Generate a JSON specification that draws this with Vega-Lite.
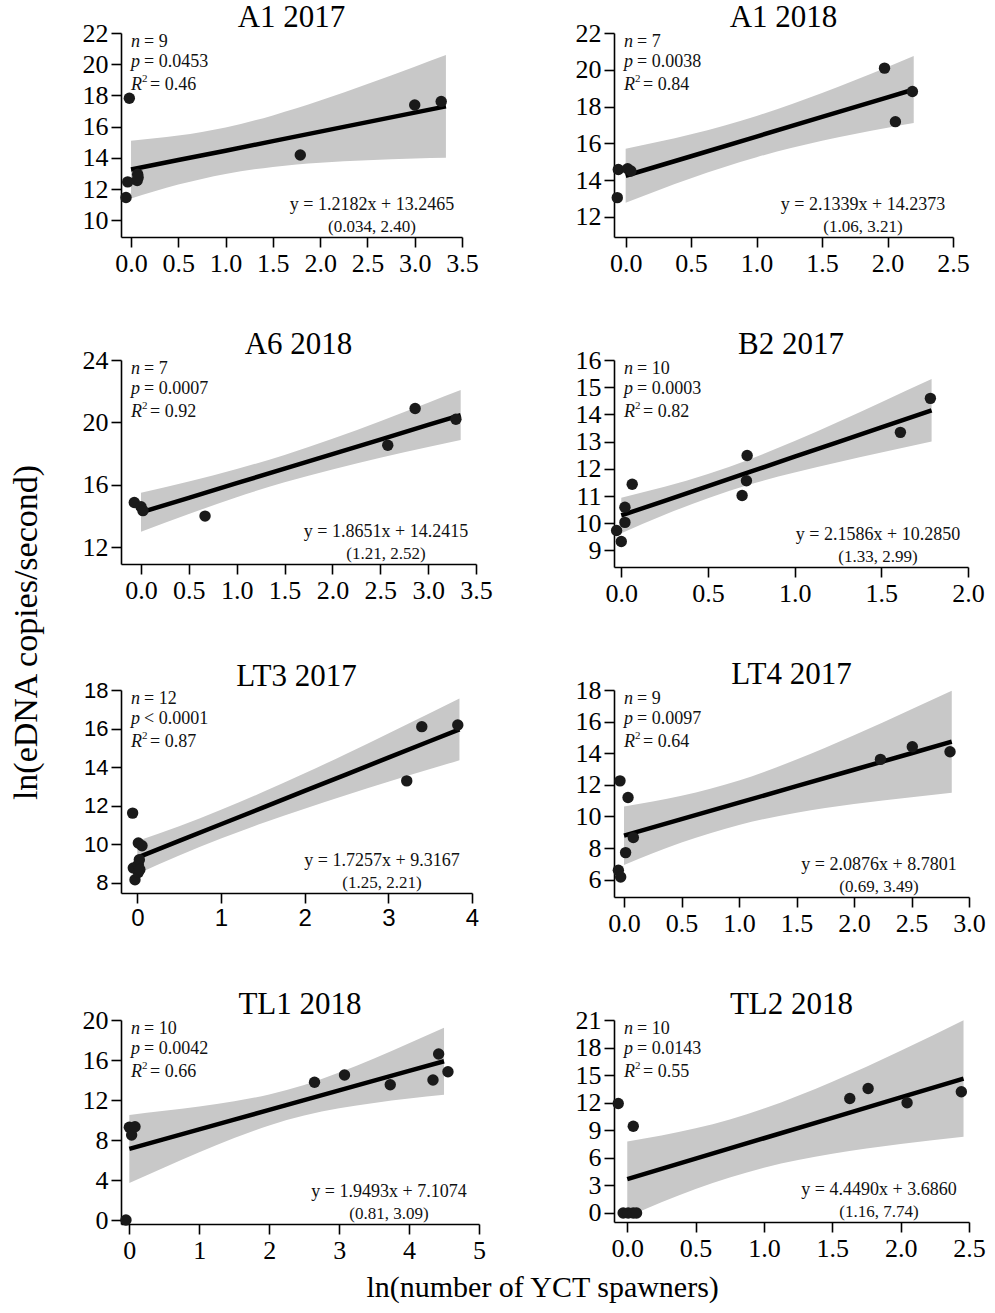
{
"$schema": "https://vega.github.io/schema/vega-lite/v6.json",
"background": "white",
"padding": {"left": 9, "top": 2, "right": 5, "bottom": 5},
"title": {"text": "ln(eDNA copies/second)", "orient": "left", "fontSize": 34, "anchor": "middle", "offset": 38, "frame": "bounds", "dy": 0, "dx": 20},
"datasets": {
"pts": [
{"panel":"A1 2017","x":-0.018,"y":17.82},{"panel":"A1 2017","x":-0.035,"y":12.46},{"panel":"A1 2017","x":-0.053,"y":11.46},{"panel":"A1 2017","x":0.07,"y":12.95},{"panel":"A1 2017","x":0.065,"y":12.55},{"panel":"A1 2017","x":0.075,"y":12.75},{"panel":"A1 2017","x":1.79,"y":14.18},{"panel":"A1 2017","x":3.0,"y":17.39},{"panel":"A1 2017","x":3.28,"y":17.61},
{"panel":"A1 2018","x":-0.056,"y":14.58},{"panel":"A1 2018","x":-0.064,"y":13.05},{"panel":"A1 2018","x":0.015,"y":14.62},{"panel":"A1 2018","x":0.04,"y":14.5},{"panel":"A1 2018","x":1.977,"y":20.09},{"panel":"A1 2018","x":2.06,"y":17.18},{"panel":"A1 2018","x":2.19,"y":18.82},
{"panel":"A6 2018","x":-0.07,"y":14.87},{"panel":"A6 2018","x":0.0,"y":14.6},{"panel":"A6 2018","x":0.02,"y":14.35},{"panel":"A6 2018","x":0.669,"y":14.0},{"panel":"A6 2018","x":2.578,"y":18.54},{"panel":"A6 2018","x":2.864,"y":20.89},{"panel":"A6 2018","x":3.29,"y":20.2},
{"panel":"B2 2017","x":-0.027,"y":9.73},{"panel":"B2 2017","x":0.0,"y":9.33},{"panel":"B2 2017","x":0.021,"y":10.03},{"panel":"B2 2017","x":0.021,"y":10.59},{"panel":"B2 2017","x":0.063,"y":11.43},{"panel":"B2 2017","x":0.697,"y":11.02},{"panel":"B2 2017","x":0.722,"y":11.56},{"panel":"B2 2017","x":0.726,"y":12.49},{"panel":"B2 2017","x":1.61,"y":13.34},{"panel":"B2 2017","x":1.783,"y":14.59},
{"panel":"LT3 2017","x":-0.056,"y":11.62},{"panel":"LT3 2017","x":0.012,"y":10.07},{"panel":"LT3 2017","x":0.056,"y":9.93},{"panel":"LT3 2017","x":-0.048,"y":8.78},{"panel":"LT3 2017","x":-0.028,"y":8.17},{"panel":"LT3 2017","x":0.012,"y":8.55},{"panel":"LT3 2017","x":0.012,"y":8.95},{"panel":"LT3 2017","x":0.024,"y":9.2},{"panel":"LT3 2017","x":0.03,"y":8.7},{"panel":"LT3 2017","x":3.22,"y":13.29},{"panel":"LT3 2017","x":3.4,"y":16.1},{"panel":"LT3 2017","x":3.83,"y":16.19},
{"panel":"LT4 2017","x":-0.035,"y":12.25},{"panel":"LT4 2017","x":0.035,"y":11.2},{"panel":"LT4 2017","x":0.014,"y":7.71},{"panel":"LT4 2017","x":0.081,"y":8.66},{"panel":"LT4 2017","x":-0.049,"y":6.59},{"panel":"LT4 2017","x":-0.029,"y":6.17},{"panel":"LT4 2017","x":2.23,"y":13.61},{"panel":"LT4 2017","x":2.507,"y":14.41},{"panel":"LT4 2017","x":2.835,"y":14.09},
{"panel":"TL1 2018","x":-0.048,"y":0.0},{"panel":"TL1 2018","x":0.0,"y":9.27},{"panel":"TL1 2018","x":0.033,"y":8.5},{"panel":"TL1 2018","x":0.081,"y":9.33},{"panel":"TL1 2018","x":2.648,"y":13.77},{"panel":"TL1 2018","x":3.077,"y":14.5},{"panel":"TL1 2018","x":3.731,"y":13.53},{"panel":"TL1 2018","x":4.342,"y":14.0},{"panel":"TL1 2018","x":4.423,"y":16.6},{"panel":"TL1 2018","x":4.556,"y":14.83},
{"panel":"TL2 2018","x":-0.066,"y":11.92},{"panel":"TL2 2018","x":0.044,"y":9.44},{"panel":"TL2 2018","x":-0.03,"y":0.0},{"panel":"TL2 2018","x":0.007,"y":0.0},{"panel":"TL2 2018","x":0.044,"y":0.0},{"panel":"TL2 2018","x":0.068,"y":0.0},{"panel":"TL2 2018","x":1.628,"y":12.46},{"panel":"TL2 2018","x":1.762,"y":13.55},{"panel":"TL2 2018","x":2.047,"y":11.99},{"panel":"TL2 2018","x":2.444,"y":13.19}
],
"fit": [
{"panel":"A1 2017","x":0,"fit":13.25,"lo":11.40,"hi":15.10},{"panel":"A1 2017","x":0.5,"fit":13.86,"lo":12.29,"hi":15.43},{"panel":"A1 2017","x":1.0,"fit":14.46,"lo":12.97,"hi":15.95},{"panel":"A1 2017","x":1.5,"fit":15.07,"lo":13.42,"hi":16.72},{"panel":"A1 2017","x":2.0,"fit":15.68,"lo":13.69,"hi":17.67},{"panel":"A1 2017","x":2.5,"fit":16.29,"lo":13.85,"hi":18.73},{"panel":"A1 2017","x":3.0,"fit":16.90,"lo":13.96,"hi":19.84},{"panel":"A1 2017","x":3.33,"fit":17.30,"lo":14.01,"hi":20.59},
{"panel":"A1 2018","x":0,"fit":14.24,"lo":12.77,"hi":15.71},{"panel":"A1 2018","x":0.5,"fit":15.30,"lo":14.11,"hi":16.49},{"panel":"A1 2018","x":1.0,"fit":16.37,"lo":15.25,"hi":17.49},{"panel":"A1 2018","x":1.5,"fit":17.44,"lo":16.14,"hi":18.74},{"panel":"A1 2018","x":2.0,"fit":18.50,"lo":16.85,"hi":20.15},{"panel":"A1 2018","x":2.2,"fit":18.93,"lo":17.11,"hi":20.75},
{"panel":"A6 2018","x":0,"fit":14.24,"lo":12.99,"hi":15.49},{"panel":"A6 2018","x":0.5,"fit":15.17,"lo":14.13,"hi":16.21},{"panel":"A6 2018","x":1.0,"fit":16.11,"lo":15.21,"hi":17.01},{"panel":"A6 2018","x":1.5,"fit":17.04,"lo":16.16,"hi":17.92},{"panel":"A6 2018","x":2.0,"fit":17.97,"lo":16.99,"hi":18.95},{"panel":"A6 2018","x":2.5,"fit":18.90,"lo":17.73,"hi":20.07},{"panel":"A6 2018","x":3.0,"fit":19.84,"lo":18.43,"hi":21.26},{"panel":"A6 2018","x":3.34,"fit":20.47,"lo":18.87,"hi":22.07},
{"panel":"B2 2017","x":0,"fit":10.285,"lo":9.63,"hi":10.94},{"panel":"B2 2017","x":0.25,"fit":10.825,"lo":10.31,"hi":11.34},{"panel":"B2 2017","x":0.5,"fit":11.364,"lo":10.92,"hi":11.81},{"panel":"B2 2017","x":0.75,"fit":11.904,"lo":11.44,"hi":12.37},{"panel":"B2 2017","x":1.0,"fit":12.444,"lo":11.86,"hi":13.02},{"panel":"B2 2017","x":1.25,"fit":12.983,"lo":12.24,"hi":13.72},{"panel":"B2 2017","x":1.5,"fit":13.523,"lo":12.60,"hi":14.45},{"panel":"B2 2017","x":1.79,"fit":14.149,"lo":13.00,"hi":15.30},
{"panel":"LT3 2017","x":0,"fit":9.317,"lo":8.47,"hi":10.17},{"panel":"LT3 2017","x":0.5,"fit":10.18,"lo":9.42,"hi":10.94},{"panel":"LT3 2017","x":1.0,"fit":11.042,"lo":10.30,"hi":11.79},{"panel":"LT3 2017","x":1.5,"fit":11.905,"lo":11.11,"hi":12.71},{"panel":"LT3 2017","x":2.0,"fit":12.768,"lo":11.85,"hi":13.68},{"panel":"LT3 2017","x":2.5,"fit":13.631,"lo":12.56,"hi":14.70},{"panel":"LT3 2017","x":3.0,"fit":14.494,"lo":13.24,"hi":15.75},{"panel":"LT3 2017","x":3.5,"fit":15.357,"lo":13.90,"hi":16.81},{"panel":"LT3 2017","x":3.85,"fit":15.961,"lo":14.36,"hi":17.56},
{"panel":"LT4 2017","x":0,"fit":8.78,"lo":6.93,"hi":10.63},{"panel":"LT4 2017","x":0.5,"fit":9.824,"lo":8.35,"hi":11.30},{"panel":"LT4 2017","x":1.0,"fit":10.868,"lo":9.46,"hi":12.27},{"panel":"LT4 2017","x":1.5,"fit":11.912,"lo":10.23,"hi":13.60},{"panel":"LT4 2017","x":2.0,"fit":12.955,"lo":10.78,"hi":15.13},{"panel":"LT4 2017","x":2.5,"fit":13.999,"lo":11.22,"hi":16.78},{"panel":"LT4 2017","x":2.85,"fit":14.73,"lo":11.50,"hi":17.96},
{"panel":"TL1 2018","x":0,"fit":7.107,"lo":3.71,"hi":10.51},{"panel":"TL1 2018","x":0.5,"fit":8.082,"lo":5.24,"hi":10.92},{"panel":"TL1 2018","x":1.0,"fit":9.057,"lo":6.77,"hi":11.35},{"panel":"TL1 2018","x":1.5,"fit":10.031,"lo":8.19,"hi":11.87},{"panel":"TL1 2018","x":2.0,"fit":11.006,"lo":9.46,"hi":12.56},{"panel":"TL1 2018","x":2.5,"fit":11.981,"lo":10.45,"hi":13.51},{"panel":"TL1 2018","x":3.0,"fit":12.955,"lo":11.18,"hi":14.74},{"panel":"TL1 2018","x":3.5,"fit":13.93,"lo":11.71,"hi":16.15},{"panel":"TL1 2018","x":4.0,"fit":14.905,"lo":12.15,"hi":17.67},{"panel":"TL1 2018","x":4.5,"fit":15.879,"lo":12.53,"hi":19.23},
{"panel":"TL2 2018","x":0,"fit":3.686,"lo":-0.41,"hi":7.79},{"panel":"TL2 2018","x":0.25,"fit":4.798,"lo":1.17,"hi":8.43},{"panel":"TL2 2018","x":0.5,"fit":5.911,"lo":2.61,"hi":9.21},{"panel":"TL2 2018","x":0.75,"fit":7.023,"lo":3.86,"hi":10.18},{"panel":"TL2 2018","x":1.0,"fit":8.135,"lo":4.92,"hi":11.36},{"panel":"TL2 2018","x":1.5,"fit":10.36,"lo":6.44,"hi":14.28},{"panel":"TL2 2018","x":2.0,"fit":12.584,"lo":7.51,"hi":17.65},{"panel":"TL2 2018","x":2.46,"fit":14.631,"lo":8.30,"hi":20.96}
],
"stats": [
{"panel":"A1 2017","n":"= 9","p":"= 0.0453","r":"= 0.46","eq":"y = 1.2182x + 13.2465","ci":"(0.034, 2.40)"},
{"panel":"A1 2018","n":"= 7","p":"= 0.0038","r":"= 0.84","eq":"y = 2.1339x + 14.2373","ci":"(1.06, 3.21)"},
{"panel":"A6 2018","n":"= 7","p":"= 0.0007","r":"= 0.92","eq":"y = 1.8651x + 14.2415","ci":"(1.21, 2.52)"},
{"panel":"B2 2017","n":"= 10","p":"= 0.0003","r":"= 0.82","eq":"y = 2.1586x + 10.2850","ci":"(1.33, 2.99)"},
{"panel":"LT3 2017","n":"= 12","p":"< 0.0001","r":"= 0.87","eq":"y = 1.7257x + 9.3167","ci":"(1.25, 2.21)"},
{"panel":"LT4 2017","n":"= 9","p":"= 0.0097","r":"= 0.64","eq":"y = 2.0876x + 8.7801","ci":"(0.69, 3.49)"},
{"panel":"TL1 2018","n":"= 10","p":"= 0.0042","r":"= 0.66","eq":"y = 1.9493x + 7.1074","ci":"(0.81, 3.09)"},
{"panel":"TL2 2018","n":"= 10","p":"= 0.0143","r":"= 0.55","eq":"y = 4.4490x + 3.6860","ci":"(1.16, 7.74)"}
]
},
"vconcat": [{
"title": {"text": "ln(number of YCT spawners)", "orient": "bottom", "fontSize": 30, "anchor": "middle", "offset": 10, "frame": "bounds", "dy": 0, "dx": 9},
"columns": 2,
"spacing": {"row": 53, "column": 82},
"concat": [
{"title": "A1 2017", "width": 341, "height": 204, "layer": [
{"data": {"name": "fit"}, "transform": [{"filter": "datum.panel == 'A1 2017'"}], "mark": {"type": "area", "color": "#c8c8c8", "interpolate": "monotone"},
 "encoding": {"x": {"field": "x", "type": "quantitative", "title": null, "scale": {"domain": [-0.106, 3.5], "nice": false, "zero": false}, "axis": {"values": [0,0.5,1,1.5,2,2.5,3,3.5], "format": ".1f", "labelOverlap": false}},
  "y": {"field": "lo", "type": "quantitative", "title": null, "scale": {"domain": [8.93, 22], "nice": false, "zero": false}, "axis": {"values": [10,12,14,16,18,20,22], "labelOverlap": false}}, "y2": {"field": "hi"}}},
{"data": {"name": "fit"}, "transform": [{"filter": "datum.panel == 'A1 2017'"}], "mark": {"type": "line", "color": "black", "strokeWidth": 4.5}, "encoding": {"x": {"field": "x", "type": "quantitative", "title": null, "axis": {"values": [0,0.5,1,1.5,2,2.5,3,3.5], "format": ".1f", "labelOverlap": false}}, "y": {"field": "fit", "type": "quantitative", "title": null, "axis": {"values": [10,12,14,16,18,20,22], "labelOverlap": false}}}},
{"data": {"name": "pts"}, "transform": [{"filter": "datum.panel == 'A1 2017'"}], "mark": {"type": "circle", "size": 130, "color": "#1a1a1a", "opacity": 1}, "encoding": {"x": {"field": "x", "type": "quantitative", "title": null, "axis": {"values": [0,0.5,1,1.5,2,2.5,3,3.5], "format": ".1f", "labelOverlap": false}}, "y": {"field": "y", "type": "quantitative", "title": null, "axis": {"values": [10,12,14,16,18,20,22], "labelOverlap": false}}}},
{"data": {"name": "stats"}, "transform": [{"filter": "datum.panel == 'A1 2017'"}], "layer": [
 {"mark": {"type": "text", "style": "it", "x": 10, "y": 14}, "encoding": {"text": {"value": "n"}}},
 {"mark": {"type": "text", "style": "it", "x": 10, "y": 34}, "encoding": {"text": {"value": "p"}}},
 {"mark": {"type": "text", "style": "it", "x": 10, "y": 57}, "encoding": {"text": {"value": "R"}}},
 {"mark": {"type": "text", "style": "sup", "x": 21, "y": 49}, "encoding": {"text": {"value": "2"}}},
 {"mark": {"type": "text", "style": "val", "x": 23, "y": 14}, "encoding": {"text": {"field": "n"}}},
 {"mark": {"type": "text", "style": "val", "x": 23, "y": 34}, "encoding": {"text": {"field": "p"}}},
 {"mark": {"type": "text", "style": "val", "x": 29, "y": 57}, "encoding": {"text": {"field": "r"}}},
 {"mark": {"type": "text", "style": "eq", "dx": -90, "dy": -27}, "encoding": {"x": {"value": "width"}, "y": {"value": "height"}, "text": {"field": "eq"}}},
 {"mark": {"type": "text", "style": "ci", "dx": -90, "dy": -5}, "encoding": {"x": {"value": "width"}, "y": {"value": "height"}, "text": {"field": "ci"}}}
]}
]},
{"title": "A1 2018", "width": 339, "height": 204, "layer": [
{"data": {"name": "fit"}, "transform": [{"filter": "datum.panel == 'A1 2018'"}], "mark": {"type": "area", "color": "#c8c8c8", "interpolate": "monotone"},
 "encoding": {"x": {"field": "x", "type": "quantitative", "title": null, "scale": {"domain": [-0.089, 2.5], "nice": false, "zero": false}, "axis": {"values": [0,0.5,1,1.5,2,2.5], "format": ".1f", "labelOverlap": false}},
  "y": {"field": "lo", "type": "quantitative", "title": null, "scale": {"domain": [10.91, 22], "nice": false, "zero": false}, "axis": {"values": [12,14,16,18,20,22], "labelOverlap": false}}, "y2": {"field": "hi"}}},
{"data": {"name": "fit"}, "transform": [{"filter": "datum.panel == 'A1 2018'"}], "mark": {"type": "line", "color": "black", "strokeWidth": 4.5}, "encoding": {"x": {"field": "x", "type": "quantitative", "title": null, "axis": {"values": [0,0.5,1,1.5,2,2.5], "format": ".1f", "labelOverlap": false}}, "y": {"field": "fit", "type": "quantitative", "title": null, "axis": {"values": [12,14,16,18,20,22], "labelOverlap": false}}}},
{"data": {"name": "pts"}, "transform": [{"filter": "datum.panel == 'A1 2018'"}], "mark": {"type": "circle", "size": 130, "color": "#1a1a1a", "opacity": 1}, "encoding": {"x": {"field": "x", "type": "quantitative", "title": null, "axis": {"values": [0,0.5,1,1.5,2,2.5], "format": ".1f", "labelOverlap": false}}, "y": {"field": "y", "type": "quantitative", "title": null, "axis": {"values": [12,14,16,18,20,22], "labelOverlap": false}}}},
{"data": {"name": "stats"}, "transform": [{"filter": "datum.panel == 'A1 2018'"}], "layer": [
 {"mark": {"type": "text", "style": "it", "x": 10, "y": 14}, "encoding": {"text": {"value": "n"}}},
 {"mark": {"type": "text", "style": "it", "x": 10, "y": 34}, "encoding": {"text": {"value": "p"}}},
 {"mark": {"type": "text", "style": "it", "x": 10, "y": 57}, "encoding": {"text": {"value": "R"}}},
 {"mark": {"type": "text", "style": "sup", "x": 21, "y": 49}, "encoding": {"text": {"value": "2"}}},
 {"mark": {"type": "text", "style": "val", "x": 23, "y": 14}, "encoding": {"text": {"field": "n"}}},
 {"mark": {"type": "text", "style": "val", "x": 23, "y": 34}, "encoding": {"text": {"field": "p"}}},
 {"mark": {"type": "text", "style": "val", "x": 29, "y": 57}, "encoding": {"text": {"field": "r"}}},
 {"mark": {"type": "text", "style": "eq", "dx": -90, "dy": -27}, "encoding": {"x": {"value": "width"}, "y": {"value": "height"}, "text": {"field": "eq"}}},
 {"mark": {"type": "text", "style": "ci", "dx": -90, "dy": -5}, "encoding": {"x": {"value": "width"}, "y": {"value": "height"}, "text": {"field": "ci"}}}
]}
]},
{"title": "A6 2018", "width": 355, "height": 204, "layer": [
{"data": {"name": "fit"}, "transform": [{"filter": "datum.panel == 'A6 2018'"}], "mark": {"type": "area", "color": "#c8c8c8", "interpolate": "monotone"},
 "encoding": {"x": {"field": "x", "type": "quantitative", "title": null, "scale": {"domain": [-0.209, 3.5], "nice": false, "zero": false}, "axis": {"values": [0,0.5,1,1.5,2,2.5,3,3.5], "format": ".1f", "labelOverlap": false}},
  "y": {"field": "lo", "type": "quantitative", "title": null, "scale": {"domain": [10.93, 24], "nice": false, "zero": false}, "axis": {"values": [12,16,20,24], "labelOverlap": false}}, "y2": {"field": "hi"}}},
{"data": {"name": "fit"}, "transform": [{"filter": "datum.panel == 'A6 2018'"}], "mark": {"type": "line", "color": "black", "strokeWidth": 4.5}, "encoding": {"x": {"field": "x", "type": "quantitative", "title": null, "axis": {"values": [0,0.5,1,1.5,2,2.5,3,3.5], "format": ".1f", "labelOverlap": false}}, "y": {"field": "fit", "type": "quantitative", "title": null, "axis": {"values": [12,16,20,24], "labelOverlap": false}}}},
{"data": {"name": "pts"}, "transform": [{"filter": "datum.panel == 'A6 2018'"}], "mark": {"type": "circle", "size": 130, "color": "#1a1a1a", "opacity": 1}, "encoding": {"x": {"field": "x", "type": "quantitative", "title": null, "axis": {"values": [0,0.5,1,1.5,2,2.5,3,3.5], "format": ".1f", "labelOverlap": false}}, "y": {"field": "y", "type": "quantitative", "title": null, "axis": {"values": [12,16,20,24], "labelOverlap": false}}}},
{"data": {"name": "stats"}, "transform": [{"filter": "datum.panel == 'A6 2018'"}], "layer": [
 {"mark": {"type": "text", "style": "it", "x": 10, "y": 14}, "encoding": {"text": {"value": "n"}}},
 {"mark": {"type": "text", "style": "it", "x": 10, "y": 34}, "encoding": {"text": {"value": "p"}}},
 {"mark": {"type": "text", "style": "it", "x": 10, "y": 57}, "encoding": {"text": {"value": "R"}}},
 {"mark": {"type": "text", "style": "sup", "x": 21, "y": 49}, "encoding": {"text": {"value": "2"}}},
 {"mark": {"type": "text", "style": "val", "x": 23, "y": 14}, "encoding": {"text": {"field": "n"}}},
 {"mark": {"type": "text", "style": "val", "x": 23, "y": 34}, "encoding": {"text": {"field": "p"}}},
 {"mark": {"type": "text", "style": "val", "x": 29, "y": 57}, "encoding": {"text": {"field": "r"}}},
 {"mark": {"type": "text", "style": "eq", "dx": -90, "dy": -27}, "encoding": {"x": {"value": "width"}, "y": {"value": "height"}, "text": {"field": "eq"}}},
 {"mark": {"type": "text", "style": "ci", "dx": -90, "dy": -5}, "encoding": {"x": {"value": "width"}, "y": {"value": "height"}, "text": {"field": "ci"}}}
]}
]},
{"title": "B2 2017", "width": 354, "height": 207, "layer": [
{"data": {"name": "fit"}, "transform": [{"filter": "datum.panel == 'B2 2017'"}], "mark": {"type": "area", "color": "#c8c8c8", "interpolate": "monotone"},
 "encoding": {"x": {"field": "x", "type": "quantitative", "title": null, "scale": {"domain": [-0.042, 2.0], "nice": false, "zero": false}, "axis": {"values": [0,0.5,1,1.5,2], "format": ".1f", "labelOverlap": false}},
  "y": {"field": "lo", "type": "quantitative", "title": null, "scale": {"domain": [8.39, 16], "nice": false, "zero": false}, "axis": {"values": [9,10,11,12,13,14,15,16], "labelOverlap": false}}, "y2": {"field": "hi"}}},
{"data": {"name": "fit"}, "transform": [{"filter": "datum.panel == 'B2 2017'"}], "mark": {"type": "line", "color": "black", "strokeWidth": 4.5}, "encoding": {"x": {"field": "x", "type": "quantitative", "title": null, "axis": {"values": [0,0.5,1,1.5,2], "format": ".1f", "labelOverlap": false}}, "y": {"field": "fit", "type": "quantitative", "title": null, "axis": {"values": [9,10,11,12,13,14,15,16], "labelOverlap": false}}}},
{"data": {"name": "pts"}, "transform": [{"filter": "datum.panel == 'B2 2017'"}], "mark": {"type": "circle", "size": 130, "color": "#1a1a1a", "opacity": 1}, "encoding": {"x": {"field": "x", "type": "quantitative", "title": null, "axis": {"values": [0,0.5,1,1.5,2], "format": ".1f", "labelOverlap": false}}, "y": {"field": "y", "type": "quantitative", "title": null, "axis": {"values": [9,10,11,12,13,14,15,16], "labelOverlap": false}}}},
{"data": {"name": "stats"}, "transform": [{"filter": "datum.panel == 'B2 2017'"}], "layer": [
 {"mark": {"type": "text", "style": "it", "x": 10, "y": 14}, "encoding": {"text": {"value": "n"}}},
 {"mark": {"type": "text", "style": "it", "x": 10, "y": 34}, "encoding": {"text": {"value": "p"}}},
 {"mark": {"type": "text", "style": "it", "x": 10, "y": 57}, "encoding": {"text": {"value": "R"}}},
 {"mark": {"type": "text", "style": "sup", "x": 21, "y": 49}, "encoding": {"text": {"value": "2"}}},
 {"mark": {"type": "text", "style": "val", "x": 23, "y": 14}, "encoding": {"text": {"field": "n"}}},
 {"mark": {"type": "text", "style": "val", "x": 23, "y": 34}, "encoding": {"text": {"field": "p"}}},
 {"mark": {"type": "text", "style": "val", "x": 29, "y": 57}, "encoding": {"text": {"field": "r"}}},
 {"mark": {"type": "text", "style": "eq", "dx": -90, "dy": -27}, "encoding": {"x": {"value": "width"}, "y": {"value": "height"}, "text": {"field": "eq"}}},
 {"mark": {"type": "text", "style": "ci", "dx": -90, "dy": -5}, "encoding": {"x": {"value": "width"}, "y": {"value": "height"}, "text": {"field": "ci"}}}
]}
]},
{"title": "LT3 2017", "width": 351, "height": 203, "layer": [
{"data": {"name": "fit"}, "transform": [{"filter": "datum.panel == 'LT3 2017'"}], "mark": {"type": "area", "color": "#c8c8c8", "interpolate": "monotone"},
 "encoding": {"x": {"field": "x", "type": "quantitative", "title": null, "scale": {"domain": [-0.195, 4], "nice": false, "zero": false}, "axis": {"values": [0,1,2,3,4], "format": "d", "labelFont": "Liberation Sans", "labelFontSize": 24, "labelOverlap": false}},
  "y": {"field": "lo", "type": "quantitative", "title": null, "scale": {"domain": [7.48, 18], "nice": false, "zero": false}, "axis": {"values": [8,10,12,14,16,18], "labelFont": "Liberation Sans", "labelFontSize": 22, "labelOverlap": false}}, "y2": {"field": "hi"}}},
{"data": {"name": "fit"}, "transform": [{"filter": "datum.panel == 'LT3 2017'"}], "mark": {"type": "line", "color": "black", "strokeWidth": 4.5}, "encoding": {"x": {"field": "x", "type": "quantitative", "title": null, "axis": {"values": [0,1,2,3,4], "format": "d", "labelFont": "Liberation Sans", "labelFontSize": 24, "labelOverlap": false}}, "y": {"field": "fit", "type": "quantitative", "title": null, "axis": {"values": [8,10,12,14,16,18], "labelFont": "Liberation Sans", "labelFontSize": 22, "labelOverlap": false}}}},
{"data": {"name": "pts"}, "transform": [{"filter": "datum.panel == 'LT3 2017'"}], "mark": {"type": "circle", "size": 130, "color": "#1a1a1a", "opacity": 1}, "encoding": {"x": {"field": "x", "type": "quantitative", "title": null, "axis": {"values": [0,1,2,3,4], "format": "d", "labelFont": "Liberation Sans", "labelFontSize": 24, "labelOverlap": false}}, "y": {"field": "y", "type": "quantitative", "title": null, "axis": {"values": [8,10,12,14,16,18], "labelFont": "Liberation Sans", "labelFontSize": 22, "labelOverlap": false}}}},
{"data": {"name": "stats"}, "transform": [{"filter": "datum.panel == 'LT3 2017'"}], "layer": [
 {"mark": {"type": "text", "style": "it", "x": 10, "y": 14}, "encoding": {"text": {"value": "n"}}},
 {"mark": {"type": "text", "style": "it", "x": 10, "y": 34}, "encoding": {"text": {"value": "p"}}},
 {"mark": {"type": "text", "style": "it", "x": 10, "y": 57}, "encoding": {"text": {"value": "R"}}},
 {"mark": {"type": "text", "style": "sup", "x": 21, "y": 49}, "encoding": {"text": {"value": "2"}}},
 {"mark": {"type": "text", "style": "val", "x": 23, "y": 14}, "encoding": {"text": {"field": "n"}}},
 {"mark": {"type": "text", "style": "val", "x": 23, "y": 34}, "encoding": {"text": {"field": "p"}}},
 {"mark": {"type": "text", "style": "val", "x": 29, "y": 57}, "encoding": {"text": {"field": "r"}}},
 {"mark": {"type": "text", "style": "eq", "dx": -90, "dy": -27}, "encoding": {"x": {"value": "width"}, "y": {"value": "height"}, "text": {"field": "eq"}}},
 {"mark": {"type": "text", "style": "ci", "dx": -90, "dy": -5}, "encoding": {"x": {"value": "width"}, "y": {"value": "height"}, "text": {"field": "ci"}}}
]}
]},
{"title": "LT4 2017", "width": 355, "height": 207, "layer": [
{"data": {"name": "fit"}, "transform": [{"filter": "datum.panel == 'LT4 2017'"}], "mark": {"type": "area", "color": "#c8c8c8", "interpolate": "monotone"},
 "encoding": {"x": {"field": "x", "type": "quantitative", "title": null, "scale": {"domain": [-0.087, 3.0], "nice": false, "zero": false}, "axis": {"values": [0,0.5,1,1.5,2,2.5,3], "format": ".1f", "labelOverlap": false}},
  "y": {"field": "lo", "type": "quantitative", "title": null, "scale": {"domain": [4.9, 18], "nice": false, "zero": false}, "axis": {"values": [6,8,10,12,14,16,18], "labelOverlap": false}}, "y2": {"field": "hi"}}},
{"data": {"name": "fit"}, "transform": [{"filter": "datum.panel == 'LT4 2017'"}], "mark": {"type": "line", "color": "black", "strokeWidth": 4.5}, "encoding": {"x": {"field": "x", "type": "quantitative", "title": null, "axis": {"values": [0,0.5,1,1.5,2,2.5,3], "format": ".1f", "labelOverlap": false}}, "y": {"field": "fit", "type": "quantitative", "title": null, "axis": {"values": [6,8,10,12,14,16,18], "labelOverlap": false}}}},
{"data": {"name": "pts"}, "transform": [{"filter": "datum.panel == 'LT4 2017'"}], "mark": {"type": "circle", "size": 130, "color": "#1a1a1a", "opacity": 1}, "encoding": {"x": {"field": "x", "type": "quantitative", "title": null, "axis": {"values": [0,0.5,1,1.5,2,2.5,3], "format": ".1f", "labelOverlap": false}}, "y": {"field": "y", "type": "quantitative", "title": null, "axis": {"values": [6,8,10,12,14,16,18], "labelOverlap": false}}}},
{"data": {"name": "stats"}, "transform": [{"filter": "datum.panel == 'LT4 2017'"}], "layer": [
 {"mark": {"type": "text", "style": "it", "x": 10, "y": 14}, "encoding": {"text": {"value": "n"}}},
 {"mark": {"type": "text", "style": "it", "x": 10, "y": 34}, "encoding": {"text": {"value": "p"}}},
 {"mark": {"type": "text", "style": "it", "x": 10, "y": 57}, "encoding": {"text": {"value": "R"}}},
 {"mark": {"type": "text", "style": "sup", "x": 21, "y": 49}, "encoding": {"text": {"value": "2"}}},
 {"mark": {"type": "text", "style": "val", "x": 23, "y": 14}, "encoding": {"text": {"field": "n"}}},
 {"mark": {"type": "text", "style": "val", "x": 23, "y": 34}, "encoding": {"text": {"field": "p"}}},
 {"mark": {"type": "text", "style": "val", "x": 29, "y": 57}, "encoding": {"text": {"field": "r"}}},
 {"mark": {"type": "text", "style": "eq", "dx": -90, "dy": -27}, "encoding": {"x": {"value": "width"}, "y": {"value": "height"}, "text": {"field": "eq"}}},
 {"mark": {"type": "text", "style": "ci", "dx": -90, "dy": -5}, "encoding": {"x": {"value": "width"}, "y": {"value": "height"}, "text": {"field": "ci"}}}
]}
]},
{"title": "TL1 2018", "width": 358, "height": 204, "layer": [
{"data": {"name": "fit"}, "transform": [{"filter": "datum.panel == 'TL1 2018'"}], "mark": {"type": "area", "color": "#c8c8c8", "interpolate": "monotone"},
 "encoding": {"x": {"field": "x", "type": "quantitative", "title": null, "scale": {"domain": [-0.119, 5], "nice": false, "zero": false}, "axis": {"values": [0,1,2,3,4,5], "format": "d", "labelOverlap": false}},
  "y": {"field": "lo", "type": "quantitative", "title": null, "scale": {"domain": [-0.4, 20], "nice": false, "zero": false}, "axis": {"values": [0,4,8,12,16,20], "labelOverlap": false}}, "y2": {"field": "hi"}}},
{"data": {"name": "fit"}, "transform": [{"filter": "datum.panel == 'TL1 2018'"}], "mark": {"type": "line", "color": "black", "strokeWidth": 4.5}, "encoding": {"x": {"field": "x", "type": "quantitative", "title": null, "axis": {"values": [0,1,2,3,4,5], "format": "d", "labelOverlap": false}}, "y": {"field": "fit", "type": "quantitative", "title": null, "axis": {"values": [0,4,8,12,16,20], "labelOverlap": false}}}},
{"data": {"name": "pts"}, "transform": [{"filter": "datum.panel == 'TL1 2018'"}], "mark": {"type": "circle", "size": 130, "color": "#1a1a1a", "opacity": 1}, "encoding": {"x": {"field": "x", "type": "quantitative", "title": null, "axis": {"values": [0,1,2,3,4,5], "format": "d", "labelOverlap": false}}, "y": {"field": "y", "type": "quantitative", "title": null, "axis": {"values": [0,4,8,12,16,20], "labelOverlap": false}}}},
{"data": {"name": "stats"}, "transform": [{"filter": "datum.panel == 'TL1 2018'"}], "layer": [
 {"mark": {"type": "text", "style": "it", "x": 10, "y": 14}, "encoding": {"text": {"value": "n"}}},
 {"mark": {"type": "text", "style": "it", "x": 10, "y": 34}, "encoding": {"text": {"value": "p"}}},
 {"mark": {"type": "text", "style": "it", "x": 10, "y": 57}, "encoding": {"text": {"value": "R"}}},
 {"mark": {"type": "text", "style": "sup", "x": 21, "y": 49}, "encoding": {"text": {"value": "2"}}},
 {"mark": {"type": "text", "style": "val", "x": 23, "y": 14}, "encoding": {"text": {"field": "n"}}},
 {"mark": {"type": "text", "style": "val", "x": 23, "y": 34}, "encoding": {"text": {"field": "p"}}},
 {"mark": {"type": "text", "style": "val", "x": 29, "y": 57}, "encoding": {"text": {"field": "r"}}},
 {"mark": {"type": "text", "style": "eq", "dx": -90, "dy": -27}, "encoding": {"x": {"value": "width"}, "y": {"value": "height"}, "text": {"field": "eq"}}},
 {"mark": {"type": "text", "style": "ci", "dx": -90, "dy": -5}, "encoding": {"x": {"value": "width"}, "y": {"value": "height"}, "text": {"field": "ci"}}}
]}
]},
{"title": "TL2 2018", "width": 355, "height": 202, "layer": [
{"data": {"name": "fit"}, "transform": [{"filter": "datum.panel == 'TL2 2018'"}], "mark": {"type": "area", "color": "#c8c8c8", "interpolate": "monotone"},
 "encoding": {"x": {"field": "x", "type": "quantitative", "title": null, "scale": {"domain": [-0.097, 2.5], "nice": false, "zero": false}, "axis": {"values": [0,0.5,1,1.5,2,2.5], "format": ".1f", "labelOverlap": false}},
  "y": {"field": "lo", "type": "quantitative", "title": null, "scale": {"domain": [-0.98, 21], "nice": false, "zero": false}, "axis": {"values": [0,3,6,9,12,15,18,21], "labelOverlap": false}}, "y2": {"field": "hi"}}},
{"data": {"name": "fit"}, "transform": [{"filter": "datum.panel == 'TL2 2018'"}], "mark": {"type": "line", "color": "black", "strokeWidth": 4.5}, "encoding": {"x": {"field": "x", "type": "quantitative", "title": null, "axis": {"values": [0,0.5,1,1.5,2,2.5], "format": ".1f", "labelOverlap": false}}, "y": {"field": "fit", "type": "quantitative", "title": null, "axis": {"values": [0,3,6,9,12,15,18,21], "labelOverlap": false}}}},
{"data": {"name": "pts"}, "transform": [{"filter": "datum.panel == 'TL2 2018'"}], "mark": {"type": "circle", "size": 130, "color": "#1a1a1a", "opacity": 1}, "encoding": {"x": {"field": "x", "type": "quantitative", "title": null, "axis": {"values": [0,0.5,1,1.5,2,2.5], "format": ".1f", "labelOverlap": false}}, "y": {"field": "y", "type": "quantitative", "title": null, "axis": {"values": [0,3,6,9,12,15,18,21], "labelOverlap": false}}}},
{"data": {"name": "stats"}, "transform": [{"filter": "datum.panel == 'TL2 2018'"}], "layer": [
 {"mark": {"type": "text", "style": "it", "x": 10, "y": 14}, "encoding": {"text": {"value": "n"}}},
 {"mark": {"type": "text", "style": "it", "x": 10, "y": 34}, "encoding": {"text": {"value": "p"}}},
 {"mark": {"type": "text", "style": "it", "x": 10, "y": 57}, "encoding": {"text": {"value": "R"}}},
 {"mark": {"type": "text", "style": "sup", "x": 21, "y": 49}, "encoding": {"text": {"value": "2"}}},
 {"mark": {"type": "text", "style": "val", "x": 23, "y": 14}, "encoding": {"text": {"field": "n"}}},
 {"mark": {"type": "text", "style": "val", "x": 23, "y": 34}, "encoding": {"text": {"field": "p"}}},
 {"mark": {"type": "text", "style": "val", "x": 29, "y": 57}, "encoding": {"text": {"field": "r"}}},
 {"mark": {"type": "text", "style": "eq", "dx": -90, "dy": -27}, "encoding": {"x": {"value": "width"}, "y": {"value": "height"}, "text": {"field": "eq"}}},
 {"mark": {"type": "text", "style": "ci", "dx": -90, "dy": -5}, "encoding": {"x": {"value": "width"}, "y": {"value": "height"}, "text": {"field": "ci"}}}
]}
]}
]
}],
"config": {
 "view": {"stroke": null},
 "font": "Liberation Serif",
 "axis": {"domainColor": "black", "domainWidth": 1.6, "tickColor": "black", "tickWidth": 1.6, "tickSize": 10, "labelFont": "Liberation Serif", "labelFontSize": 26, "labelColor": "black", "labelPadding": 3, "grid": false, "labelFlush": false, "labelOverlap": false},
 "axisY": {"labelOverlap": false},
 "axisX": {"labelOverlap": false},
 "title": {"font": "Liberation Serif", "fontSize": 31, "fontWeight": "normal", "color": "black", "offset": 0, "anchor": "middle", "frame": "group", "dy": 18},
 "style": {
  "it": {"font": "Liberation Serif", "fontSize": 18, "fontStyle": "italic", "align": "left", "baseline": "alphabetic", "color": "#111111"},
  "val": {"font": "Liberation Serif", "fontSize": 18, "align": "left", "baseline": "alphabetic", "color": "#111111"},
  "sup": {"font": "Liberation Serif", "fontSize": 11, "align": "left", "baseline": "alphabetic", "color": "#111111"},
  "eq": {"font": "Liberation Serif", "fontSize": 18, "align": "center", "baseline": "alphabetic", "color": "#111111"},
  "ci": {"font": "Liberation Serif", "fontSize": 17, "align": "center", "baseline": "alphabetic", "color": "#111111"}
 }
}
}
